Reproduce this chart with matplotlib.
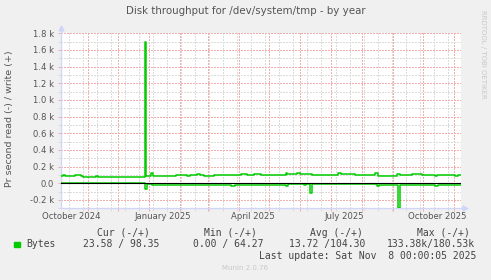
import matplotlib
matplotlib.use("Agg")
import matplotlib.pyplot as plt
import matplotlib.dates as mdates
import matplotlib.ticker as mticker
import pandas as pd

# write (+) per second, each value holds until the next date
writeDates = ["2024-10-05", "2024-10-07", "2024-10-09", "2024-10-19", "2024-10-25",
              "2024-10-27", "2024-11-09", "2024-11-11", "2024-12-28", "2024-12-29",
              "2025-01-03", "2025-01-05", "2025-01-08", "2025-01-16", "2025-01-28",
              "2025-02-08", "2025-02-11", "2025-02-18", "2025-02-21", "2025-02-25",
              "2025-03-07", "2025-04-03", "2025-04-09", "2025-04-16", "2025-04-23",
              "2025-05-09", "2025-05-18", "2025-05-19", "2025-05-29", "2025-06-01",
              "2025-06-10", "2025-06-13", "2025-07-08", "2025-07-11", "2025-07-25",
              "2025-08-01", "2025-08-14", "2025-08-17", "2025-09-05", "2025-09-08",
              "2025-09-20", "2025-09-30", "2025-10-13", "2025-10-15", "2025-11-02",
              "2025-11-05", "2025-11-08"]
writeValues = [88, 104, 88, 100, 88,
               74, 88, 72, 1700, 88,
               120, 88, 92, 88, 100,
               88, 100, 112, 96, 88,
               96, 108, 104, 108, 100,
               104, 120, 108, 128, 108,
               116, 100, 128, 108, 96,
               104, 120, 88, 116, 100,
               108, 100, 88, 100, 88,
               96, 96]

# read (-) per second, drawn below zero
readDates = ["2024-10-05", "2024-12-28", "2024-12-30", "2025-01-04", "2025-01-09",
             "2025-01-13", "2025-01-28", "2025-01-30", "2025-02-13", "2025-02-18",
             "2025-03-24", "2025-03-28", "2025-05-18", "2025-05-20", "2025-06-05",
             "2025-06-07", "2025-06-11", "2025-06-13", "2025-08-16", "2025-08-18",
             "2025-09-06", "2025-09-08", "2025-10-13", "2025-10-16", "2025-11-08"]
readValues = [0, 72, 8, 20, 25,
              15, 25, 15, 25, 15,
              32, 15, 30, 12, 25,
              12, 120, 14, 30, 15,
              292, 15, 30, 20, 20]

yTicks = [-200, 0, 200, 400, 600, 800, 1000, 1200, 1400, 1600, 1800]
monthLabels = ["October 2024", "January 2025", "April 2025", "July 2025", "October 2025"]
monthLabelDates = ["2024-10-16", "2025-01-15", "2025-04-15", "2025-07-15", "2025-10-15"]
legendHeads = ["Cur (-/+)", "Min (-/+)", "Avg (-/+)", "Max (-/+)"]
legendValues = ["23.58 / 98.35", "0.00 / 64.27", "13.72 /104.30", "133.38k/180.53k"]

W, H = 491, 280
BG = "#F0F0F0"
FONT = "#555555"
LEGF = "#444444"
GREEN = "#00CC00"
AXISC = "#CFD6F8"
MGRID = "#F3AEAE"
GRID = "#DCDCDC"


def px(x, y):
    return x / W, 1 - y / H


def yfmt(v, pos):
    if v == 0:
        return "0.0"
    return "%.1f k" % (v / 1000.0)


fig = plt.figure(figsize=(W / 100, H / 100), dpi=100, facecolor=BG)
left, right, top, bottom = 60.5, 461, 33.3, 208.3
ax = fig.add_axes([left / W, 1 - bottom / H, (right - left) / W, (bottom - top) / H])
ax.set_facecolor("white")

wd = pd.to_datetime(writeDates)
rd = pd.to_datetime(readDates)
ax.step(wd, writeValues, where="post", color=GREEN, lw=1.1, zorder=4)
ax.step(rd, [-v for v in readValues], where="post", color=GREEN, lw=1.1, zorder=4)
ax.axhline(0, color="black", lw=0.8, zorder=5)

ax.set_xlim(pd.Timestamp("2024-10-05"), pd.Timestamp("2025-11-08"))
ax.set_ylim(-300, 1800)

# grid: red monthly / 0.2k, gray every two weeks / 0.1k
ax.set_yticks(yTicks)
ax.yaxis.set_minor_locator(mticker.MultipleLocator(100))
ax.yaxis.set_major_formatter(mticker.FuncFormatter(yfmt))
ax.xaxis.set_major_locator(mdates.MonthLocator())
minorDays = pd.date_range("2024-10-13", "2025-11-08", freq="14D")
ax.set_xticks(minorDays, minor=True)
ax.set_xticklabels([])

ax.grid(True, which="major", color=MGRID, lw=0.72, ls=(0, (1.4, 1.4)), zorder=1,
        antialiased=False)
ax.grid(True, which="minor", color=GRID, lw=0.72, ls=(0, (1.4, 1.4)), zorder=0,
        antialiased=False)
ax.tick_params(which="major", length=2, width=0.72, color=MGRID, direction="out",
               labelsize=6.1, labelcolor=FONT, pad=2.5)
ax.tick_params(which="minor", length=2, width=0.72, color=GRID, direction="out")

for s in ["top", "right"]:
    ax.spines[s].set_visible(False)
for s in ["left", "bottom"]:
    ax.spines[s].set_color(AXISC)
    ax.spines[s].set_linewidth(0.9)

# axis arrows
ax.plot([0, 0], [1, 1.025], color=AXISC, lw=0.9, transform=ax.transAxes, clip_on=False)
ax.plot(0, 1.03, marker="^", ms=3.5, color=AXISC, transform=ax.transAxes, clip_on=False)
ax.plot([1, 1.008], [0, 0], color=AXISC, lw=0.9, transform=ax.transAxes, clip_on=False)
ax.plot(1.01, 0, marker=">", ms=3.5, color=AXISC, transform=ax.transAxes, clip_on=False)

for d, lab in zip(monthLabelDates, monthLabels):
    ax.text(pd.Timestamp(d), -0.045, lab, transform=ax.get_xaxis_transform(),
            ha="center", va="center", fontsize=6.1, color=FONT)

fig.text(*px(245.5, 11.5), "Disk throughput for /dev/system/tmp - by year",
         ha="center", va="center", fontsize=7.4, color=FONT)
fig.text(*px(10, 119), "Pr second read (-) / write (+)", rotation=90,
         ha="center", va="center", fontsize=6.8, color=FONT)
fig.text(*px(483.5, 54), "RRDTOOL / TOBI OETIKER", rotation=270,
         ha="center", va="center", fontsize=5.0, color="#C8C8C8")

mono = "DejaVu Sans Mono"
headX = [97, 204, 310, 417]
valX = [82.7, 192.7, 289.3, 387.3]
for x, t in zip(headX, legendHeads):
    fig.text(*px(x, 232.7), t, ha="left", va="center", fontsize=7.05, color=LEGF, family=mono)
fig.patches.append(plt.Rectangle(px(14, 247), 6 / W, 5 / H, color=GREEN,
                                 transform=fig.transFigure, figure=fig))
fig.text(*px(26.7, 244.3), "Bytes", ha="left", va="center", fontsize=7.05, color=LEGF, family=mono)
for x, t in zip(valX, legendValues):
    fig.text(*px(x, 244.3), t, ha="left", va="center", fontsize=7.05, color=LEGF, family=mono)
fig.text(*px(476.7, 256.3), "Last update: Sat Nov  8 00:00:05 2025", ha="right",
         va="center", fontsize=7.05, color=LEGF, family=mono)
fig.text(*px(245, 268.3), "Munin 2.0.76", ha="center", va="center",
         fontsize=5.0, color="#C8C8C8")

fig.savefig("out.png", dpi=100, facecolor=BG)
